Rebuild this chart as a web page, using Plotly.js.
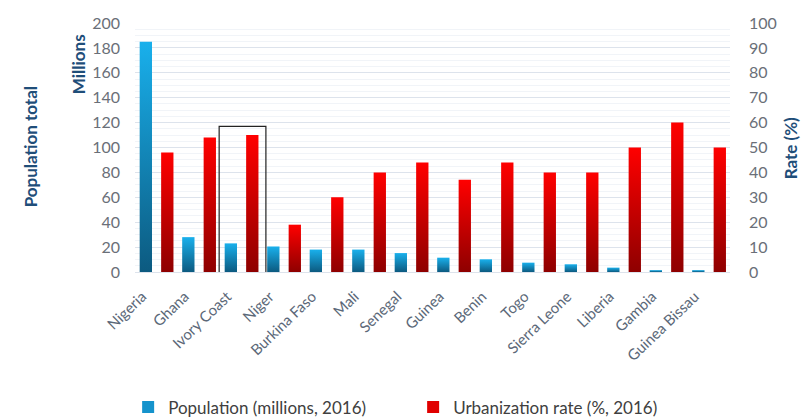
<!DOCTYPE html>
<html>
<head>
<meta charset="utf-8">
<script src="https://cdn.plot.ly/plotly-3.0.1.min.js"></script>
<style>
html,body{margin:0;padding:0;background:#fff;}
#chart{width:811px;height:420px;}
</style>
</head>
<body>
<div id="chart"></div>
<script>
const countries = ["Nigeria","Ghana","Ivory Coast","Niger","Burkina Faso","Mali","Senegal","Guinea","Benin","Togo","Sierra Leone","Liberia","Gambia","Guinea Bissau"];
const population = [185, 28, 23, 20.5, 18, 18, 15.2, 11.5, 10.2, 7.5, 6.2, 3.5, 1.5, 1.5];
const urbanization = [48, 54, 55, 19, 30, 40, 44, 37, 44, 40, 40, 50, 60, 50];
const leftTicks = [0,20,40,60,80,100,120,140,160,180,200];
const rightTicks = [0,10,20,30,40,50,60,70,80,90,100];

const FONT = "Lato, 'Noto Sans', sans-serif";
const xIdx = countries.map((c,i)=>i);

const traces = [
  {
    type: "bar", name: "Population (millions, 2016)",
    x: xIdx, y: population, yaxis: "y",
    width: 0.29, offset: -0.39,
    marker: {color: "#1593cc", line: {width: 0}}
  },
  {
    type: "bar", name: "Urbanization rate (%, 2016)",
    x: xIdx, y: urbanization, yaxis: "y2",
    width: 0.29, offset: 0.115,
    marker: {color: "#e00000", line: {width: 0}}
  }
];

const layout = {
  width: 811, height: 420,
  margin: {l: 135, r: 81, t: 23, b: 148, autoexpand: false},
  paper_bgcolor: "#ffffff", plot_bgcolor: "#ffffff",
  barmode: "overlay",
  showlegend: true,
  legend: {orientation: "h", xref: "container", yref: "container",
           x: 0.158, xanchor: "left", y: 0.03, yanchor: "middle",
           font: {family: FONT, size: 17, color: "#404040"}, traceorder: "normal",
           entrywidth: 240, entrywidthmode: "pixels", bgcolor: "rgba(0,0,0,0)"},
  xaxis: {
    tickmode: "array", tickvals: xIdx, ticktext: countries,
    range: [-0.5, countries.length - 0.5],
    tickangle: -44, tickfont: {family: FONT, size: 15, color: "#5b6878"},
    ticklabelshift: -14, ticklabelstandoff: 12,
    showgrid: false, zeroline: false, showline: false, ticks: "", fixedrange: true
  },
  yaxis: {
    range: [0, 200], tickvals: leftTicks,
    tickfont: {family: FONT, size: 16, color: "#6a6f78"},
    ticklabelstandoff: 14,
    gridcolor: "#dde3ec", gridwidth: 1, zeroline: true, zerolinecolor: "#dde3ec",
    showline: false, ticks: "", ticklen: 0,
    minor: {dtick: 5, showgrid: true, gridcolor: "#f1f4f8", gridwidth: 1}
  },
  yaxis2: {
    range: [0, 100], tickvals: rightTicks, overlaying: "y", side: "right",
    tickfont: {family: FONT, size: 16, color: "#6a6f78"},
    ticklabelstandoff: 18,
    showgrid: false, zeroline: false, showline: false, ticks: ""
  },
  annotations: [
    {text: "<b>Population total</b>", xref: "paper", yref: "paper", x: -0.197, y: 0.502,
     textangle: -90, showarrow: false, font: {family: FONT, size: 17, color: "#1f4e79"}},
    {text: "<b>Millions</b>", xref: "paper", yref: "paper", x: -0.116, y: 0.965, yanchor: "top",
     textangle: -90, showarrow: false, font: {family: FONT, size: 17, color: "#1f4e79"}},
    {text: "<b>Rate (%)</b>", xref: "paper", yref: "paper", x: 1.124, y: 0.498,
     textangle: -90, showarrow: false, font: {family: FONT, size: 17, color: "#1f4e79"}}
  ],
  shapes: [
    {type: "rect", xref: "x", yref: "y", x0: 1.48, x1: 2.58, y0: -6, y1: 117,
     line: {color: "#222222", width: 1.2}, fillcolor: "rgba(0,0,0,0)", layer: "above"}
  ]
};

Plotly.newPlot("chart", traces, layout, {displayModeBar: false, staticPlot: true}).then(function(gd){
  const svg = gd.querySelector("svg.main-svg");
  const ns = "http://www.w3.org/2000/svg";
  let defs = svg.querySelector("defs");
  if (!defs) { defs = document.createElementNS(ns, "defs"); svg.insertBefore(defs, svg.firstChild); }
  function grad(id, top, bottom) {
    const g = document.createElementNS(ns, "linearGradient");
    g.setAttribute("id", id); g.setAttribute("x1","0"); g.setAttribute("y1","0");
    g.setAttribute("x2","0"); g.setAttribute("y2","1");
    const s1 = document.createElementNS(ns, "stop"); s1.setAttribute("offset","0"); s1.setAttribute("stop-color", top);
    const s2 = document.createElementNS(ns, "stop"); s2.setAttribute("offset","1"); s2.setAttribute("stop-color", bottom);
    g.appendChild(s1); g.appendChild(s2); defs.appendChild(g);
  }
  grad("gBlue", "#19b0ec", "#0c5a80");
  grad("gRed", "#ff0000", "#8e0000");
  const bars = gd.querySelectorAll(".barlayer .trace.bars");
  bars.forEach(function(t, i){
    t.querySelectorAll("path").forEach(function(p){
      p.style.fill = i === 0 ? "url(#gBlue)" : "url(#gRed)";
    });
  });
});
</script>
</body>
</html>
